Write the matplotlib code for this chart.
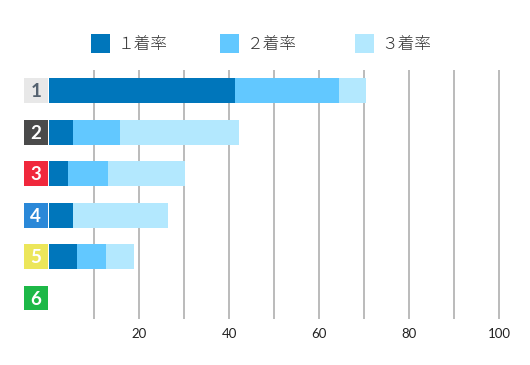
import matplotlib.pyplot as plt
from matplotlib.patches import Rectangle
import numpy as np

plt.rcParams['font.family'] = ['Noto Sans CJK JP', 'DejaVu Sans']

# 艇番ごとの着率 (%)
lanes = ['1', '2', '3', '4', '5', '6']
rate1 = [41.2, 5.2, 4.1, 5.2, 6.1, 0.0]
rate2 = [23.3, 10.4, 8.9, 0.0, 6.4, 0.0]
rate3 = [6.0, 26.5, 17.2, 21.1, 6.2, 0.0]
series_labels = ['１着率', '２着率', '３着率']
xticks = [20, 40, 60, 80, 100]
grid_at = list(range(10, 101, 10))

series_colors = ['#0076bb', '#62c8ff', '#b3e8fe']
badge_colors = ['#e8e8e8', '#4a4a4a', '#f0283c', '#2a88d8', '#ece65a', '#1db847']
badge_text = ['#556270', 'white', 'white', 'white', 'white', 'white']

W, H = 530, 365
fig = plt.figure(figsize=(W / 100, H / 100), dpi=100)
ax = fig.add_axes([49.5 / W, 1 - 318.7 / H, 449.6 * 1.02 / W, 248.7 / H])

y = np.arange(len(lanes))
bar_h = 0.6
left = np.zeros(len(lanes))
for vals, col in zip([rate1, rate2, rate3], series_colors):
    vals = np.array(vals)
    ax.barh(y, vals, left=left, height=bar_h, color=col, linewidth=0, zorder=2)
    left += vals

# lane badges left of the axis
for i, lane in enumerate(lanes):
    ax.add_patch(Rectangle((-5.7, i - bar_h / 2), 5.3, bar_h, facecolor=badge_colors[i],
                           edgecolor='none', clip_on=False, zorder=3))
    ax.text(-3.05, i + 0.03, lane, ha='center', va='center', color=badge_text[i],
            fontsize=13.5, fontweight='bold', family=['Lato', 'DejaVu Sans'],
            clip_on=False, zorder=4)

# vertical gridlines drawn explicitly
ax.vlines(grid_at, -0.5, len(lanes) - 0.5, colors='#a8a8a8', linewidth=1.1, zorder=1)

ax.set_xlim(0, 102)
ax.set_ylim(len(lanes) - 0.5, -0.5)
ax.set_xticks(xticks)
ax.set_xticklabels([str(t) for t in xticks], family=['Lato', 'DejaVu Sans'],
                   fontsize=9.5, color='#222222')
ax.set_yticks([])
ax.tick_params(axis='x', length=0, pad=7)
for s in ax.spines.values():
    s.set_visible(False)

# legend
legend_x = [90.7, 220.0, 354.7]
for lx, lab, col in zip(legend_x, series_labels, series_colors):
    fig.add_artist(Rectangle((lx / W, 1 - 53 / H), 19 / W, 19 / H,
                             transform=fig.transFigure, facecolor=col, edgecolor='none'))
    fig.text((lx + 27) / W, 1 - 44 / H, lab, ha='left', va='center',
             fontsize=12, color='#333333', fontweight='light')

fig.savefig('out.png', dpi=100)
